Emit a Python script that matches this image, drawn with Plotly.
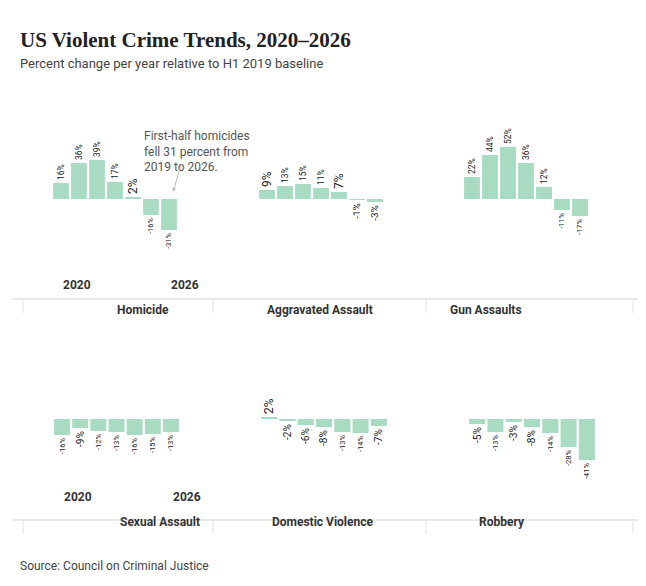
import plotly.graph_objects as go

W, H = 646, 586

years = [2020, 2021, 2022, 2023, 2024, 2025, 2026]
categories = ["Homicide", "Aggravated Assault", "Gun Assaults",
              "Sexual Assault", "Domestic Violence", "Robbery"]
homicide = [16, 36, 39, 17, 2, -16, -31]
agg_assault = [9, 13, 15, 11, 7, -1, -3]
gun_assaults = [22, 44, 52, 36, 12, -11, -17]
sexual_assault = [-16, -9, -12, -13, -16, -15, -13]
domestic_violence = [2, -2, -6, -8, -13, -14, -7]
robbery = [-5, -13, -3, -8, -14, -28, -41]
series = [homicide, agg_assault, gun_assaults, sexual_assault, domestic_violence, robbery]

BAR = "#a9dbc3"
FONT = "Roboto"

def px_x(p):
    return p / W

def px_y(p):
    return 1 - p / H

# pixel layout of panels: (left, right) bar spans, zero line y
col_spans = [[(44, 170), (250, 376), (455, 581)],
             [(45, 172), (252, 380), (460, 588)]]
zero_y = [191, 411]
half = 70  # 1px per percent

fig = go.Figure()
for i, vals in enumerate(series):
    r, c = divmod(i, 3)
    n = i + 1
    xa = "x" if n == 1 else "x%d" % n
    ya = "y" if n == 1 else "y%d" % n
    l, rr = col_spans[r][c]
    fig.add_trace(go.Bar(
        x=list(range(len(years))), y=vals, xaxis=xa, yaxis=ya,
        marker_color=BAR, marker_line_width=0, width=0.88,
        text=["%d%%" % v for v in vals], textposition="outside",
        textangle=-90, cliponaxis=False,
        textfont=dict(family=FONT, size=12, color="#222"),
        showlegend=False, hoverinfo="skip"))
    key_x = "xaxis" if n == 1 else "xaxis%d" % n
    key_y = "yaxis" if n == 1 else "yaxis%d" % n
    z = zero_y[r]
    fig.update_layout(**{
        key_x: dict(domain=[px_x(l), px_x(rr)], range=[-0.5, 6.5], visible=False,
                    anchor=ya),
        key_y: dict(domain=[px_y(z + half), px_y(z - half)], range=[-half, half],
                    visible=False, anchor=xa),
    })

shapes = []
annotations = []
panel_centers = [107, 312, 516]
for r, (line_y, label_y) in enumerate([(291, 302), (512, 523)]):
    shapes.append(dict(type="line", xref="paper", yref="paper",
                       x0=px_x(5), x1=px_x(640), y0=px_y(line_y), y1=px_y(line_y),
                       line=dict(color="#e2e2e2", width=1.5)))
    for tx in [15, 205, 418, 625]:
        shapes.append(dict(type="line", xref="paper", yref="paper",
                           x0=px_x(tx), x1=px_x(tx), y0=px_y(line_y), y1=px_y(line_y + 14),
                           line=dict(color="#e2e2e2", width=1)))
    for c in range(3):
        annotations.append(dict(x=px_x(panel_centers[c] + (3 if r else 0)), y=px_y(label_y),
                                xref="paper", yref="paper", showarrow=False,
                                text="<b>%s</b>" % categories[r * 3 + c],
                                font=dict(family=FONT, size=12, color="#333")))
    l, rr = col_spans[r][0]
    for xv, yr in [(l + 9, "2020"), (rr - 9, "2026")]:
        annotations.append(dict(x=px_x(xv), y=px_y(line_y - 14), xref="paper", yref="paper",
                                showarrow=False, text="<b>%s</b>" % yr,
                                font=dict(family=FONT, size=12, color="#333")))

annotations += [
    dict(x=px_x(10), y=px_y(18), xref="paper", yref="paper", xanchor="left", showarrow=False,
         text="<b>US Violent Crime Trends, 2020–2026</b>",
         font=dict(family="Liberation Serif", size=21, color="#222")),
    dict(x=px_x(10), y=px_y(46), xref="paper", yref="paper", xanchor="left", showarrow=False,
         text="Percent change per year relative to H1 2019 baseline",
         font=dict(family=FONT, size=13, color="#444")),
    dict(x=px_x(10), y=px_y(567), xref="paper", yref="paper", xanchor="left", showarrow=False,
         text="Source: Council on Criminal Justice",
         font=dict(family=FONT, size=12, color="#444")),
    dict(x=px_x(134), y=px_y(119), xref="paper", yref="paper", xanchor="left", showarrow=False,
         align="left", text="First-half homicides<br>fell 31 percent from<br>2019 to 2026.",
         font=dict(family=FONT, size=12, color="#555")),
    dict(x=px_x(165), y=px_y(184), ax=9, ay=-30, xref="paper", yref="paper",
         showarrow=True, arrowhead=2, arrowsize=0.8,
         arrowwidth=1, arrowcolor="#bbb", text=""),
]

fig.update_layout(width=W, height=H, margin=dict(l=0, r=0, t=0, b=0),
                  paper_bgcolor="white", plot_bgcolor="white",
                  shapes=shapes, annotations=annotations, bargap=0.1)
fig.write_html("out.html")
